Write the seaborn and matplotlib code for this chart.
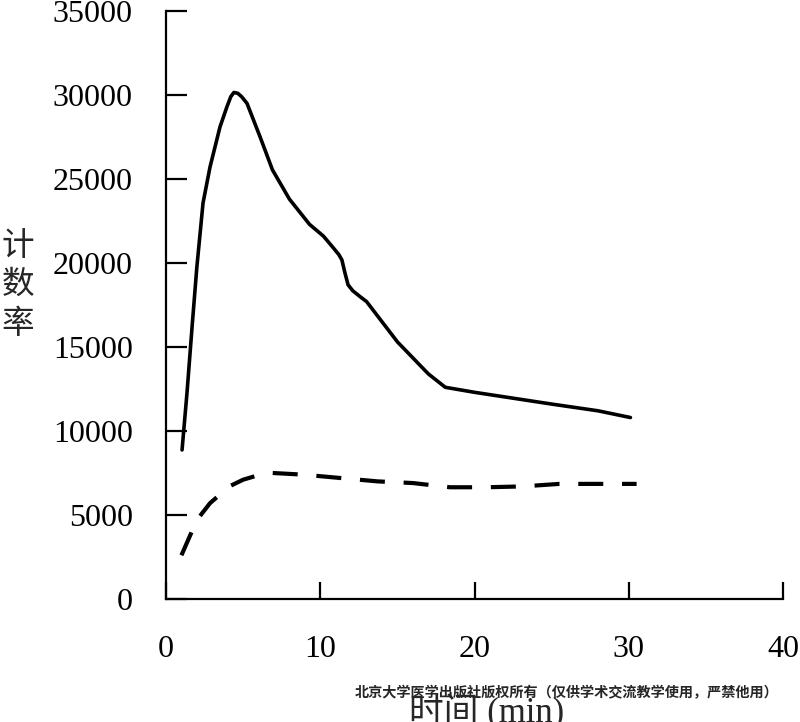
import matplotlib
matplotlib.use('Agg')
import matplotlib.pyplot as plt
import seaborn as sns
import pandas as pd

# 数据
tempo_total = [1.04, 1.36, 1.69, 2.0, 2.4, 2.85, 3.5, 3.95, 4.2, 4.4, 4.65, 4.9, 5.25,
               6.1, 6.9, 8.0, 9.3, 10.2, 10.8, 11.2, 11.4, 11.6, 11.8, 12.1, 12.6,
               13.0, 15.0, 17.0, 18.1, 20.0, 25.0, 28.0, 30.1]
contagem_total = [8870, 12260, 16200, 19760, 23570, 25700, 28100, 29300, 29900, 30150,
                  30100, 29900, 29500, 27500, 25540, 23800, 22300, 21600, 20950, 20500,
                  20180, 19400, 18700, 18350, 17980, 17700, 15300, 13400, 12600, 12300,
                  11600, 11200, 10800]

tempo_tracejado = [1.0, 2.0, 2.85, 4.1, 5.0, 6.1, 6.9, 8.9, 11.3, 13.7, 16.0, 18.4,
                   20.8, 23.1, 25.5, 30.5]
contagem_tracejado = [2600, 4700, 5700, 6700, 7100, 7400, 7500, 7400, 7200, 7000, 6900,
                      6650, 6650, 6700, 6850, 6850]

x_ticks = [0, 10, 20, 30, 40]
y_ticks = [0, 5000, 10000, 15000, 20000, 25000, 30000, 35000]

df_total = pd.DataFrame({'t': tempo_total, 'c': contagem_total})
df_tracejado = pd.DataFrame({'t': tempo_tracejado, 'c': contagem_tracejado})

sns.set_style('ticks')
plt.rcParams['font.family'] = ['Liberation Serif', 'Noto Sans CJK SC']

fig = plt.figure(figsize=(8, 7.22), dpi=100)
ax = fig.add_axes([0.2075, 0.1704, 0.979 - 0.2075, 0.9848 - 0.1704])

sns.lineplot(data=df_total, x='t', y='c', ax=ax, color='black', linewidth=2.6,
             sort=False, estimator=None)
sns.lineplot(data=df_tracejado, x='t', y='c', ax=ax, color='black', linewidth=3,
             sort=False, estimator=None, dashes=False, linestyle=(0, (6, 4.5)))

ax.set_xlim(0, 40)
ax.set_ylim(0, 35000)
ax.set_xticks(x_ticks)
ax.set_yticks(y_ticks)
ax.set_xlabel('')
ax.set_ylabel('')
sns.despine(ax=ax)
for s in ['left', 'bottom']:
    ax.spines[s].set_linewidth(1.6)
    ax.spines[s].set_color('black')
ax.tick_params(axis='y', direction='in', length=15, width=1.6, pad=24, labelsize=23, colors='black')
ax.tick_params(axis='x', direction='in', length=12, width=1.6, pad=26, labelsize=23, colors='black')

# 纵轴标签（竖排）
fig.text(18 / 800, 1 - 285 / 722, '计\n数\n率', fontsize=23.5, ha='center', va='center',
         linespacing=1.26, family=['Noto Sans CJK SC'])
# 横轴标签
fig.text(487 / 800, 1 - 712 / 722, '时间 (min)', fontsize=25, ha='center', va='center')
# 水印
fig.text(355 / 800, 1 - 693 / 722, '北京大学医学出版社版权所有（仅供学术交流教学使用，严禁他用）',
         fontsize=10.2, fontweight='bold', ha='left', va='center',
         family=['Noto Sans CJK SC'])

fig.savefig('out.png', dpi=100)
